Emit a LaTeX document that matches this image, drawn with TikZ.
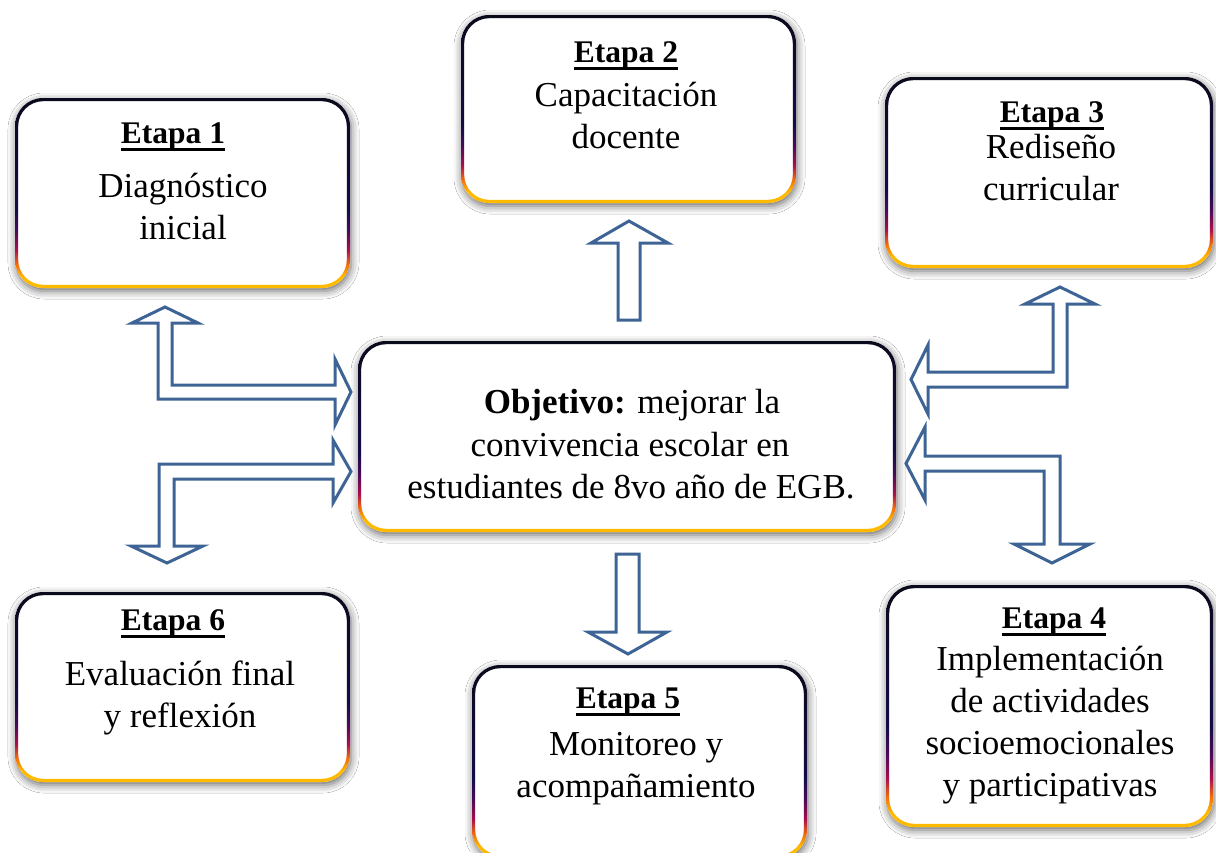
\documentclass[tikz,border=0pt]{standalone}
\usepackage{fontspec}
\setmainfont{Liberation Serif}
\usetikzlibrary{shadows.blur}
\definecolor{arrowblue}{RGB}{62,100,150}
\definecolor{gtop}{RGB}{10,10,28}
\definecolor{gnavy}{RGB}{18,12,70}
\definecolor{gpurple}{RGB}{75,10,90}
\definecolor{gcrimson}{RGB}{170,15,75}
\definecolor{gorange}{RGB}{245,115,10}
\definecolor{gyellow}{RGB}{255,185,0}
\pgfdeclareverticalshading{bordergrad}{100bp}{color(0bp)=(gyellow); color(25bp)=(gyellow); color(28bp)=(gyellow); color(31bp)=(gorange); color(35bp)=(gcrimson); color(40bp)=(gpurple); color(46bp)=(gnavy); color(75bp)=(gtop); color(100bp)=(gtop)}
\newcommand\hul[1]{\setbox0=\hbox{#1}\rlap{\rule[-7.5pt]{\wd0}{2.3pt}}\box0}
\tikzset{
  boxbg/.style={rectangle, rounded corners=28pt, fill=white, draw=none, inner sep=0pt, outer sep=0pt,
    blur shadow={shadow xshift=1pt, shadow yshift=-3pt, shadow blur radius=8pt, shadow opacity=60}},
  head/.style={anchor=base, inner sep=0pt, font=\fontsize{31.5}{38}\selectfont\bfseries},
  body/.style={anchor=base, inner sep=0pt, font=\fontsize{35}{42}\selectfont},
  blockarrow/.style={draw=arrowblue, fill=white, line width=3pt, line join=miter},
}
\newcommand\gradbox[5]{%
  \node[boxbg, minimum width={(#4-#2)*1pt}, minimum height={(#5-#3)*1pt}] (#1) at ({(#2+#4)/2},{(#3+#5)/2}) {};
  \shade[shading=bordergrad, even odd rule]
    [rounded corners=28pt] (#1.south west) rectangle (#1.north east)
    [rounded corners=25pt] ([shift={(3.2pt,3.2pt)}]#1.south west) rectangle ([shift={(-3.2pt,-3.2pt)}]#1.north east);
}
\begin{document}
\begin{tikzpicture}[x=1pt, y=-1pt]
\fill[white] (0,0) rectangle (1216,852);
\useasboundingbox (0,0) rectangle (1216,852);

% boxes
\gradbox{e1}{15}{98}{350}{288}
\gradbox{e2}{461}{15}{796}{203}
\gradbox{e3}{885}{77}{1213}{268}
\gradbox{obj}{358}{341}{896}{532}
\gradbox{e6}{15}{592}{350}{782}
\gradbox{e5}{472}{665}{807}{858}
\gradbox{e4}{886}{585}{1213}{827}

% texts
\node[head] (h1) at (173,143) {\hul{Etapa 1}};
\node[body] (t1a) at (183,197) {Diagnóstico};
\node[body] (t1b) at (183,239) {inicial};

\node[head] (h2) at (626,62) {\hul{Etapa 2}};
\node[body] (t2a) at (626,106) {Capacitación};
\node[body] (t2b) at (626,148) {docente};

\node[head] (h3) at (1052,122) {\hul{Etapa 3}};
\node[body] (t3a) at (1051,158) {Rediseño};
\node[body] (t3b) at (1051,200) {curricular};

\node[head] (h4) at (1054,628) {\hul{Etapa 4}};
\node[body] (t4a) at (1050,670) {Implementación};
\node[body] (t4b) at (1050,712) {de actividades};
\node[body] (t4c) at (1050,754) {socioemocionales};
\node[body] (t4d) at (1050,796) {y participativas};

\node[head] (h5) at (628,708) {\hul{Etapa 5}};
\node[body] (t5a) at (636,755) {Monitoreo y};
\node[body] (t5b) at (636,797) {acompañamiento};

\node[head] (h6) at (173,630) {\hul{Etapa 6}};
\node[body] (t6a) at (180,685) {Evaluación final};
\node[body] (t6b) at (180,727) {y reflexión};

\node[body] (oa) at (632,413) {\textbf{Objetivo:} mejorar la};
\node[body] (ob) at (630,456) {convivencia escolar en};
\node[body] (oc) at (631,498) {estudiantes de 8vo año de EGB.};

% block arrows
% Etapa 1 <-> objetivo
\draw[blockarrow] (165,307) -- (198,323) -- (172,323) -- (172,385) -- (335,385) -- (335,359) -- (351,392)
  -- (335,425) -- (335,399) -- (158,399) -- (158,323) -- (132,323) -- cycle;
% Etapa 6 <-> objetivo
\draw[blockarrow] (167,563) -- (203,546) -- (174,546) -- (174,479) -- (333,479) -- (333,503) -- (351,471.5)
  -- (333,440) -- (333,464) -- (159,464) -- (159,546) -- (131,546) -- cycle;
% Etapa 3 <-> objetivo
\draw[blockarrow] (1060,287) -- (1095,304) -- (1067,304) -- (1067,387) -- (928,387) -- (928,414) -- (911,379.5)
  -- (928,345) -- (928,372) -- (1053,372) -- (1053,304) -- (1025,304) -- cycle;
% Etapa 4 <-> objetivo
\draw[blockarrow] (906,463.5) -- (925,427) -- (925,456) -- (1060,456) -- (1060,544) -- (1090,544) -- (1052,563)
  -- (1014,544) -- (1044,544) -- (1044,471) -- (925,471) -- (925,500) -- cycle;
% up to Etapa 2
\draw[blockarrow] (629,221) -- (668,243) -- (640,243) -- (640,320) -- (618,320) -- (618,243) -- (591,243) -- cycle;
% down to Etapa 5
\draw[blockarrow] (628,654) -- (667,632) -- (639,632) -- (639,554) -- (616,554) -- (616,632) -- (588,632) -- cycle;
\end{tikzpicture}
\end{document}
